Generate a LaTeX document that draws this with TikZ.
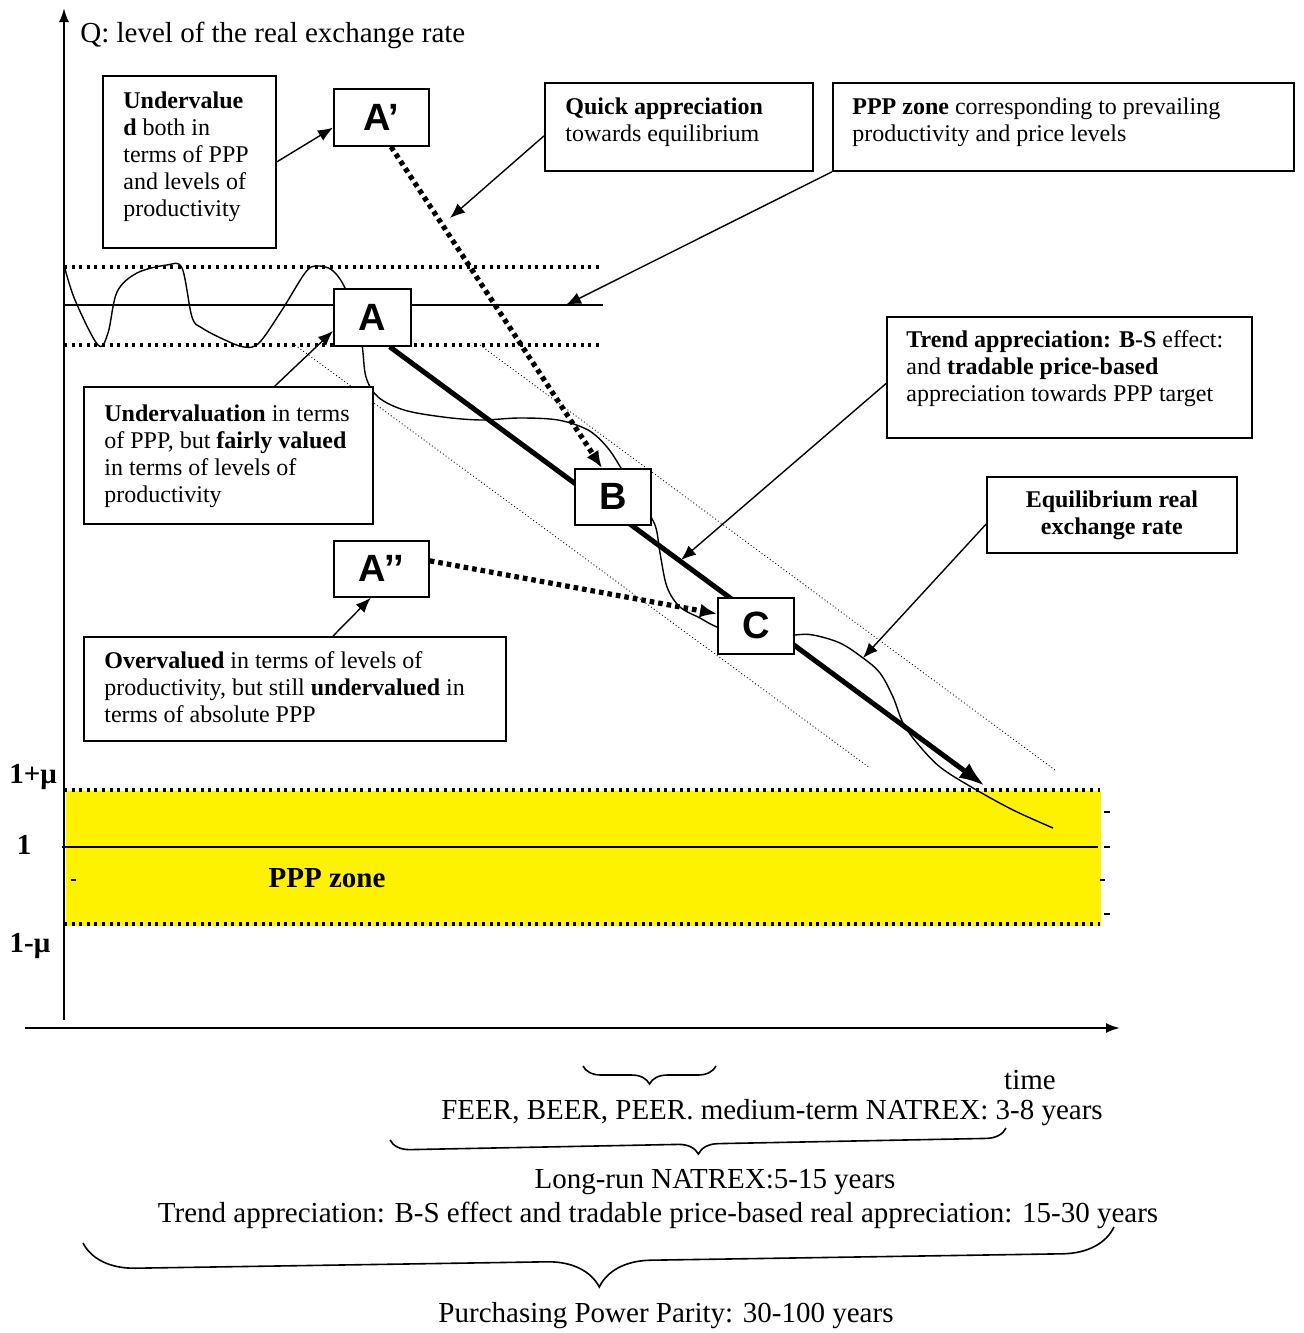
\documentclass[tikz,border=0pt]{standalone}
\usepackage{fontspec}
\setmainfont{Liberation Serif}
\newfontfamily\arialfont{Liberation Sans}
\usetikzlibrary{arrows.meta,decorations.pathreplacing,backgrounds,calc}

\begin{document}
\begin{tikzpicture}[x=0.5pt,y=-0.5pt,
  infobox/.style={draw, line width=0.9pt, fill=white, anchor=north west, inner sep=0pt},
  letterbox/.style={infobox, font=\arialfont\bfseries\fontsize{19}{21}\selectfont},
  notetext/.style={anchor=north west, inner sep=0pt, align=left, font=\fontsize{12}{13.5}\selectfont},
  bigtext/.style={inner sep=0pt, font=\fontsize{14.5}{17}\selectfont},
  pointer/.style={line width=0.7pt, -{Latex[length=7.5pt,width=6pt]}},
  dotarrow/.style={line width=2.6pt, dash pattern=on 2.3pt off 2pt, -{Latex[length=8.5pt,width=7pt]}},
  bandline/.style={line width=1.6pt, dash pattern=on 1.5pt off 2.3pt},
  thindot/.style={line width=0.4pt, dash pattern=on 0.5pt off 1.2pt},
  curly/.style={decorate, line width=0.8pt, decoration={brace, mirror, amplitude=#1}}]

\useasboundingbox (0,0) rectangle (1303,1333);

% boxes
\node[infobox, minimum width=86.5pt, minimum height=86pt] (und) at (102,75) {};
\node[notetext] (undtxt) at (123,91) {\textbf{Undervalue}\\\textbf{d} both in\\terms of PPP\\and levels of\\productivity};
\node[letterbox, minimum width=47.5pt, minimum height=28.5pt] (aprime) at (333,88) {A’};
\node[infobox, minimum width=134pt, minimum height=44pt] (qa) at (544,82) {};
\node[notetext] (qatxt) at (565,97) {\textbf{Quick appreciation}\\towards equilibrium};
\node[infobox, minimum width=230.5pt, minimum height=44pt] (pz) at (832,82) {};
\node[notetext] (pztxt) at (852,97) {\textbf{PPP zone} corresponding to prevailing\\productivity and price levels};
\node[letterbox, minimum width=38.5pt, minimum height=28.5pt] (a) at (333,288) {A};
\node[infobox, minimum width=182.5pt, minimum height=60.5pt] (tr) at (886,316) {};
\node[notetext] (trtxt) at (906,330) {\textbf{Trend appreciation: B-S} effect:\\and \textbf{tradable price-based}\\appreciation towards PPP target};
\node[infobox, minimum width=144.5pt, minimum height=68.5pt] (uv) at (83,386) {};
\node[notetext] (uvtxt) at (104,404) {\textbf{Undervaluation} in terms\\of PPP, but \textbf{fairly valued}\\in terms of levels of\\productivity};
\node[letterbox, minimum width=38pt, minimum height=28pt] (b) at (574,468) {B};
\node[infobox, minimum width=125pt, minimum height=38pt, align=center, font=\bfseries\fontsize{12}{13.5}\selectfont] (eq) at (986,476) {Equilibrium real\\exchange rate};
\node[letterbox, minimum width=47.5pt, minimum height=28pt] (app) at (333,540) {A’’};
\node[letterbox, minimum width=38pt, minimum height=28pt] (c) at (717,597) {C};
\node[infobox, minimum width=211pt, minimum height=52pt] (ov) at (83,636) {};
\node[notetext] (ovtxt) at (104,651) {\textbf{Overvalued} in terms of levels of\\productivity, but still \textbf{undervalued} in\\terms of absolute PPP};

% chart lines behind the boxes
\begin{scope}[on background layer]
\fill[yellow] (66,791) rectangle (1101,926);
\draw[bandline] (64,790) -- (1100,790);
\draw[bandline] (64,924) -- (1100,924);
\draw[line width=1pt] (62,847) -- (1098,847);
\foreach \y in {812,847,914} {
  \draw[line width=0.6pt] (1104,\y) -- (1110,\y);
}
\draw[line width=1.2pt] (1100,880) -- (1105,880);
\draw[line width=0.6pt] (71,880) -- (76,880);

\draw[bandline] (64,267) -- (603,267);
\draw[line width=0.8pt] (64,305) -- (603,305);
\draw[bandline] (64,345) -- (603,345);

\draw[thindot] (295,345) -- (870,768);
\draw[thindot] (480,345) -- (1055,770);

\draw[line width=0.7pt] plot[smooth, tension=0.55] coordinates {(64,265) (75,300) (98,345) (108,333) (117,292) (137,273) (167,265) (182,268) (192,317) (202,328) (225,340) (244,347) (259,343) (282,310) (305,273) (316,266) (332,270) (345,288) (355,320) (362,345) (366,377) (378,397) (404,410) (443,417) (481,420) (519,418) (558,420) (588,430) (607,447) (621,468) (640,500) (655,525) (660,553) (667,587) (680,607) (700,618) (717,627) (755,640) (795,635) (813,635) (840,643) (863,658) (880,673) (893,697) (903,723) (917,743) (940,767) (973,788) (1013,810) (1053,828)};

\coordinate (eqend) at (985,786);
\draw[line width=2.5pt, -{Latex[length=13pt,width=9pt]}] ($(a.south west)!0.72!(a.south east)$) -- (eqend);
\end{scope}

% axes
\draw[line width=1pt, -{Latex[length=7pt,width=5pt]}] (64,1020) -- (64,8);
\draw[line width=1pt, -{Latex[length=7pt,width=5pt]}] (25,1028) -- (1120,1028);

% pointers
\coordinate (qtip) at (450,218);
\coordinate (pztip) at (566,305);
\coordinate (trtip) at (681,560);
\coordinate (eqtip) at (863,658);
\draw[pointer] (und.east) -- (aprime.192);
\draw[pointer] ($(uv.north west)!0.66!(uv.north east)$) -- (a.199);
\draw[pointer] ($(ov.north west)!0.59!(ov.north east)$) -- ($(app.south west)!0.39!(app.south east)$);
\draw[pointer] ($(qa.north west)!0.6!(qa.south west)$) -- (qtip);
\draw[pointer] (pz.south west) -- (pztip);
\draw[pointer] ($(tr.north west)!0.55!(tr.south west)$) -- (trtip);
\draw[pointer] ($(eq.north west)!0.62!(eq.south west)$) -- (eqtip);

\draw[dotarrow] ($(aprime.south west)!0.6!(aprime.south east)$) -- ($(b.north west)!0.36!(b.north east)$);
\draw[dotarrow] ($(app.north east)!0.36!(app.south east)$) -- ($(c.north west)!0.29!(c.south west)$);

% labels
\node[bigtext, anchor=west] (qlab) at (80,35) {Q: level of the real exchange rate};
\node[bigtext] (up) at (33,777) {\textbf{1+μ}};
\node[bigtext] (one) at (24,845) {\textbf{1}};
\node[bigtext] (low) at (30,946) {\textbf{1-μ}};
\node[bigtext] (zone) at (327,878) {\textbf{PPP zone}};
\node[bigtext] (time) at (1030,1080) {time};

\draw[curly=9pt] (583,1066) -- (716,1066);
\node[bigtext] (mid) at (772,1113) {FEER, BEER, PEER. medium-term NATREX: 3-8 years};
\draw[curly=10pt] (390,1140) -- (1006,1128);
\node[bigtext] (lrun) at (715,1182) {Long-run NATREX:5-15 years};
\node[bigtext] (trend) at (658,1215) {Trend appreciation: B-S effect and tradable price-based real appreciation: 15-30 years};
\draw[curly=26pt] (83,1243) -- (1114,1227);
\node[bigtext] (ppp) at (666,1316) {Purchasing Power Parity: 30-100 years};
\end{tikzpicture}
\end{document}
